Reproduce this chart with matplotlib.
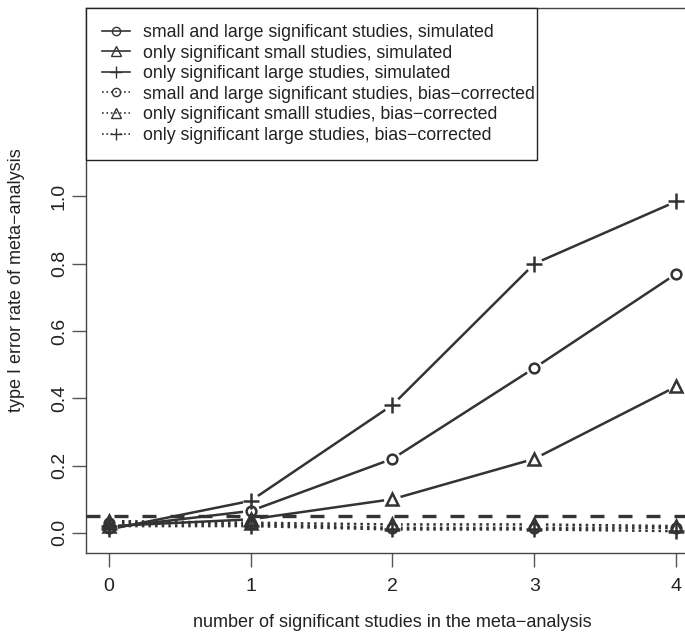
import numpy as np
import matplotlib
matplotlib.use("Agg")
import matplotlib.pyplot as plt

plt.rcParams['font.family'] = ['Liberation Sans', 'DejaVu Sans']
plt.rcParams['font.size'] = 12.5

# number of significant studies
n_sig = [0, 1, 2, 3, 4]

# simulated type I error rates
sim_both = [0.015, 0.065, 0.22, 0.49, 0.77]
sim_small = [0.02, 0.04, 0.10, 0.22, 0.435]
sim_large = [0.01, 0.095, 0.38, 0.80, 0.985]

# bias-corrected type I error rates
bc_both = [0.03, 0.025, 0.015, 0.015, 0.015]
bc_small = [0.035, 0.03, 0.025, 0.025, 0.02]
bc_large = [0.02, 0.02, 0.01, 0.01, 0.005]

alpha = 0.05

labels = [
    "small and large significant studies, simulated",
    "only significant small studies, simulated",
    "only significant large studies, simulated",
    "small and large significant studies, bias\u2212corrected",
    "only significant smalll studies, bias\u2212corrected",
    "only significant large studies, bias\u2212corrected",
]

col = "#333333"
W, H = 685, 639
fig = plt.figure(figsize=(W / 100, H / 100), dpi=100)
# plot region runs past the right edge of the picture
ax = fig.add_axes([86 / W, (H - 553) / H, (699 - 86) / W, (553 - 8) / H])
ax.set_xlim(-0.16, 4.16)
ax.set_ylim(-0.06, 1.56)

series = [
    (bc_both, 'o', ':', 7),
    (bc_small, '^', ':', 9),
    (bc_large, '+', ':', 11),
    (sim_both, 'o', '-', 7),
    (sim_small, '^', '-', 9),
    (sim_large, '+', '-', 11),
]

for vals, mk, ls, ms in series:
    ax.plot(n_sig, vals, ls=ls, color=col, lw=1.8, zorder=2, clip_on=False)
# R type="b": leave a gap round each point
for vals, mk, ls, ms in series:
    ax.scatter(n_sig, vals, s=150, color='white', linewidths=0, zorder=3, clip_on=False)
for vals, mk, ls, ms in series:
    ax.plot(n_sig, vals, ls='none', marker=mk, ms=ms, mfc='none', mec=col,
            mew=1.8, zorder=4, clip_on=False)

ax.axhline(alpha, color=col, lw=2.4, ls=(0, (4.2, 4.2)), zorder=20)

# legend handles
handles = []
for vals, mk, ls, ms in series[3:] + series[:3]:
    h, = ax.plot([], [], ls=ls, color=col, lw=1.2, marker=mk, ms=ms * 0.85,
                 mfc='none', mec=col, mew=1.0)
    handles.append(h)

leg = ax.legend(handles, labels, loc='upper left', bbox_to_anchor=(0, 1, 0.735, 0),
                mode='expand', borderaxespad=0, fancybox=False, edgecolor='#222222',
                framealpha=1, handlelength=1.6, handletextpad=0.7, labelspacing=0.2,
                borderpad=0.9, fontsize=12.8)
leg.get_frame().set_linewidth(1.0)
leg.set_zorder(30)
for t in leg.get_texts():
    t.set_color('#222222')

for s in ['top', 'right', 'left', 'bottom']:
    ax.spines[s].set_color('#444444')
    ax.spines[s].set_linewidth(1.0)

ax.set_xticks(n_sig)
ax.set_yticks([0.0, 0.2, 0.4, 0.6, 0.8, 1.0])
ax.set_yticklabels(["0.0", "0.2", "0.4", "0.6", "0.8", "1.0"], rotation=90, va='center')
ax.tick_params(axis='both', direction='out', length=10, width=1.0, color='#555555',
               labelcolor='#222222', labelsize=14)
ax.tick_params(axis='x', pad=8)
ax.tick_params(axis='y', pad=3)

ax.set_xlabel("number of significant studies in the meta\u2212analysis", labelpad=14,
              color='#222222', fontsize=13)
ax.set_ylabel("type I error rate of meta\u2212analysis", labelpad=19, color='#222222',
              fontsize=13)

fig.savefig("out.png", dpi=100)
